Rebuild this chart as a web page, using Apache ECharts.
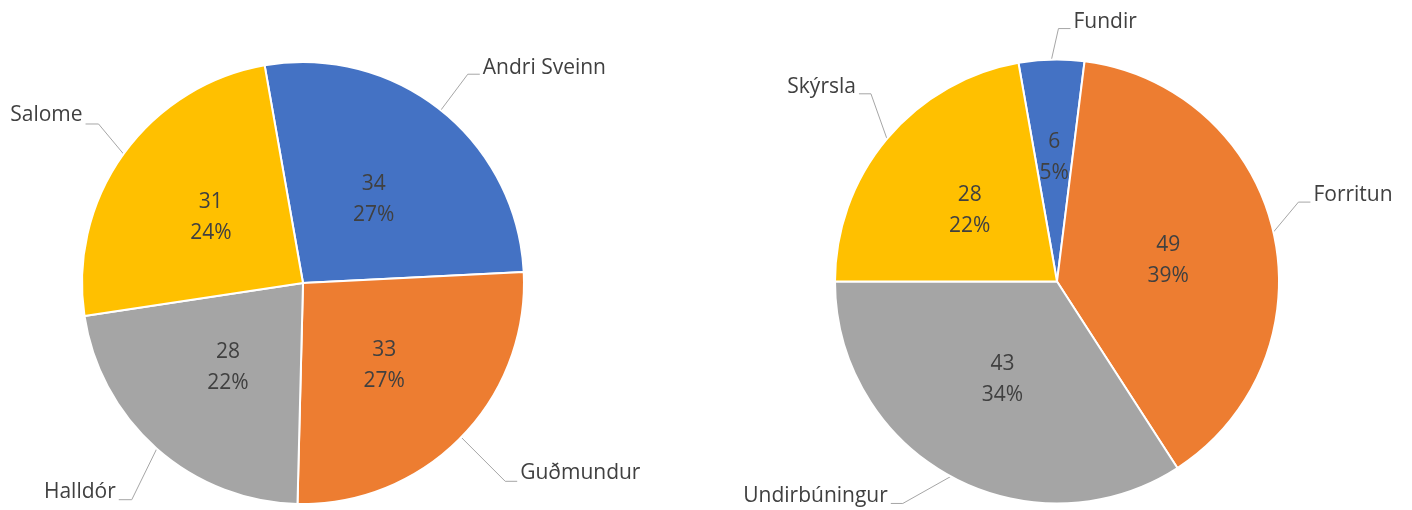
<!DOCTYPE html>
<html>
<head>
<meta charset="utf-8">
<script src="https://cdn.jsdelivr.net/npm/echarts@6/dist/echarts.min.js"></script>
<style>
  html, body { margin: 0; padding: 0; background: #fff; }
  #chart { width: 1412px; height: 510px; }
</style>
</head>
<body>
<div id="chart"></div>
<script>
var leftNames = ['Andri Sveinn', 'Guðmundur', 'Halldór', 'Salome'];
var leftValues = [34, 33, 28, 31];
var leftPercents = [27, 27, 22, 24];

var rightNames = ['Fundir', 'Forritun', 'Undirbúningur', 'Skýrsla'];
var rightValues = [6, 49, 43, 28];
var rightPercents = [5, 39, 34, 22];

var sliceColors = ['#4472C4', '#ED7D31', '#A5A5A5', '#FFC000'];

// leader line shape per label: elbow dx, elbow dy, horizontal length, text offset y
var leftLeaders = [[27, -36, 12, -6], [44, 44, 12, -8], [-25, 51, 13, -8], [-25, -30, 13, -9]];
var rightLeaders = [[7, -31, 12, -7], [25, -30, 12, -7], [-48, 27, 12, -7], [-16, -45, 12, -7]];
// small nudges of the inside labels
var leftInnerShift = [[0, 5], [0, 3], [0, -1], [0, 1]];
var rightInnerShift = [[0, -10], [0, 4], [0, -2], [0, 2]];

var textColor = '#404040';
var fontFamily = '"Open Sans", sans-serif';

function toData(names, values) {
    return names.map(function (n, i) {
        return {name: n, value: values[i], itemStyle: {color: sliceColors[i]}};
    });
}

function outerSeries(names, values, center, radius, leaders) {
    return {
        type: 'pie',
        center: center,
        radius: radius,
        startAngle: 100,
        avoidLabelOverlap: false,
        silent: true,
        itemStyle: {borderColor: '#fff', borderWidth: 2},
        label: {
            show: true,
            position: 'outside',
            formatter: '{b}',
            color: textColor,
            fontFamily: fontFamily,
            fontSize: 21
        },
        labelLine: {
            show: true,
            length: 20,
            length2: 10,
            lineStyle: {color: '#A6A6A6', width: 1}
        },
        labelLayout: function (params) {
            var g = leaders[params.dataIndex];
            var p0 = params.labelLinePoints[0];
            var dir = g[0] >= 0 ? 1 : -1;
            var p1 = [p0[0] + g[0], p0[1] + g[1]];
            var p2 = [p1[0] + dir * g[2], p1[1]];
            return {
                x: p2[0] + dir * 3,
                y: p2[1] + g[3],
                align: dir > 0 ? 'left' : 'right',
                verticalAlign: 'middle',
                labelLinePoints: [p0, p1, p2]
            };
        },
        data: toData(names, values)
    };
}

function innerSeries(names, values, percents, center, radius, shifts) {
    return {
        type: 'pie',
        center: center,
        radius: radius,
        startAngle: 100,
        silent: true,
        itemStyle: {color: 'transparent', borderWidth: 0},
        label: {
            show: true,
            position: 'inside',
            formatter: function (p) {
                return p.value + '\n' + percents[p.dataIndex] + '%';
            },
            color: textColor,
            fontFamily: fontFamily,
            fontSize: 21,
            lineHeight: 31
        },
        labelLine: {show: false},
        labelLayout: function (params) {
            var s = shifts[params.dataIndex];
            return {dx: s[0], dy: s[1]};
        },
        data: names.map(function (n, i) { return {name: n, value: values[i]}; })
    };
}

var chart = echarts.init(document.getElementById('chart'));
chart.setOption({
    animation: false,
    backgroundColor: '#fff',
    series: [
        outerSeries(leftNames, leftValues, [303, 283], 221, leftLeaders),
        innerSeries(leftNames, leftValues, leftPercents, [303, 283], 221, leftInnerShift),
        outerSeries(rightNames, rightValues, [1057, 281.5], 222, rightLeaders),
        innerSeries(rightNames, rightValues, rightPercents, [1057, 281.5], 222, rightInnerShift)
    ]
});
</script>
</body>
</html>
